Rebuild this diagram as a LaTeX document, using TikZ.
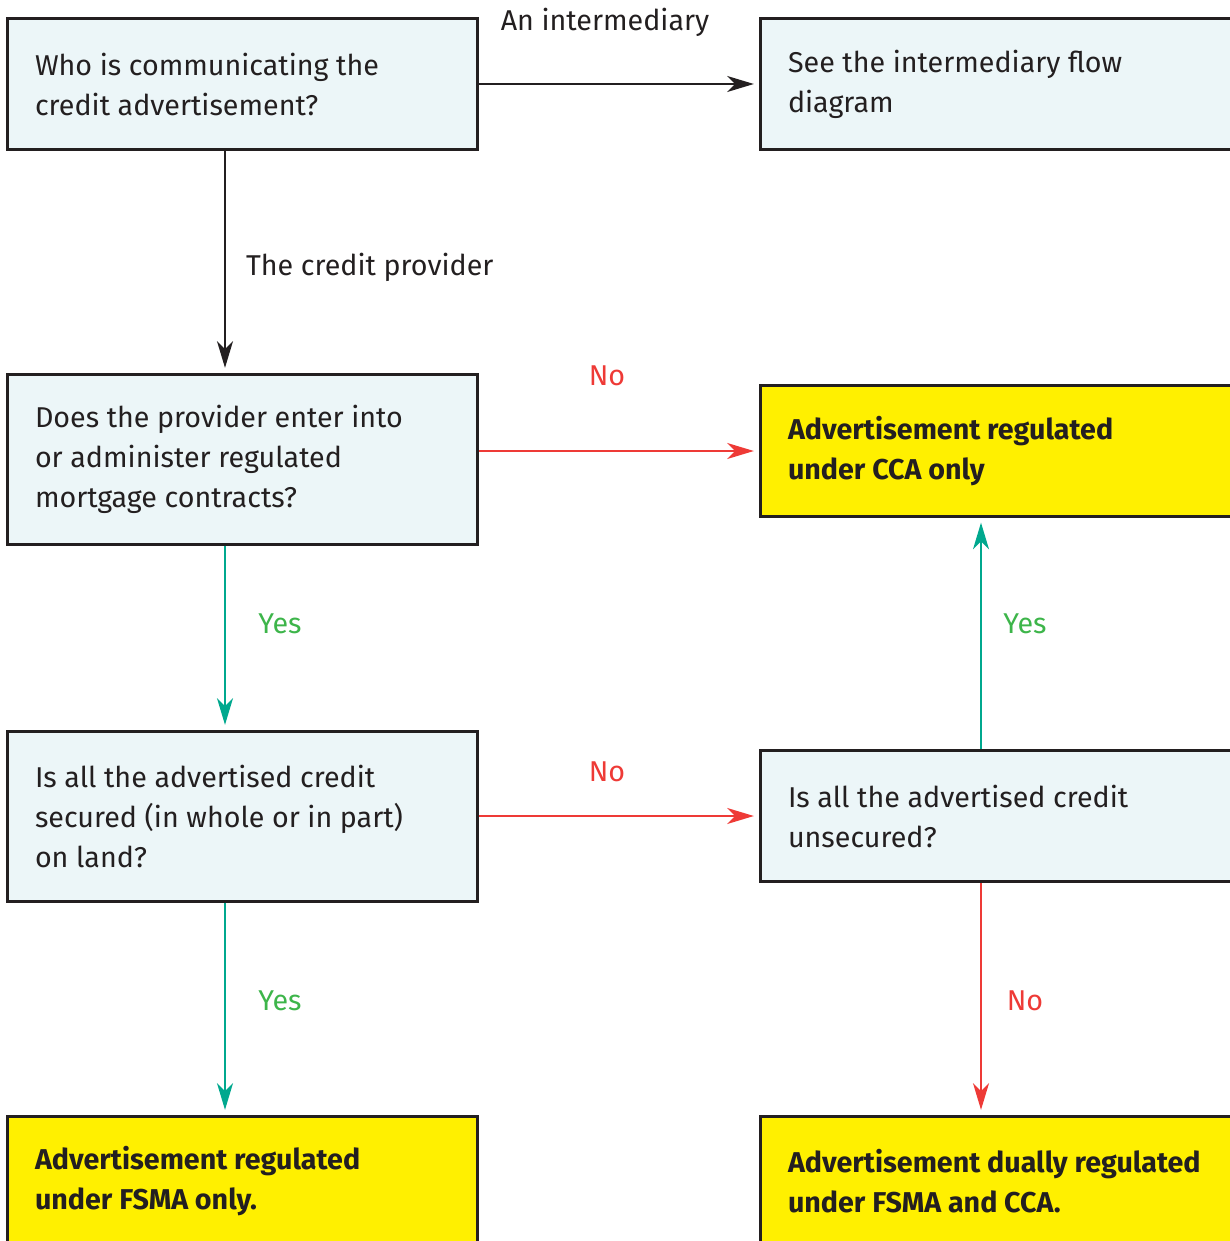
\documentclass[tikz,border=0pt]{standalone}
\usepackage{fontspec}
\setmainfont{Fira Sans}
\usetikzlibrary{arrows.meta}

\definecolor{boxblue}{HTML}{ECF6F8}
\definecolor{boxyellow}{HTML}{FFF000}
\definecolor{linedark}{HTML}{231F20}
\definecolor{noRed}{HTML}{EE3A36}
\definecolor{yesGreen}{HTML}{3DB54A}
\definecolor{yesTeal}{HTML}{00A88E}

\tikzset{
every picture/.style={
line width=1.6pt
},
qbox/.style={draw=linedark, line width=2.25pt, fill=boxblue, text=linedark,
  minimum width=352.5pt, text width=310.5pt, inner xsep=21pt, align=flush left,
  font=\fontsize{21.5}{30}\selectfont},
abox/.style={qbox, fill=boxyellow, font=\fontsize{21.5}{30}\selectfont\bfseries},
wide/.style={minimum width=360pt, text width=318pt},
flow/.style={-{Stealth[length=20pt, width=12pt, inset=6pt]}, shorten >=3.5pt},
lbl/.style={font=\fontsize{21.5}{30}\selectfont, inner sep=0pt}
}

\begin{document}
\begin{tikzpicture}[x=0.75pt, y=-0.75pt]
\useasboundingbox (0,0) rectangle (1229,1241);

% question boxes, left column
\node[qbox, minimum height=98.25pt] (who) at (242,84) {Who is communicating the\\credit advertisement?};
\node[qbox, minimum height=127.5pt] (mortgage) at (242,459) {Does the provider enter into\\or administer regulated\\mortgage contracts?};
\node[qbox, minimum height=127.5pt] (secured) at (242,816) {Is all the advertised credit\\secured (in whole or in part)\\on land?};
\node[abox, minimum height=98.25pt] (fsma) at (242,1181.5) {Advertisement regulated\\under FSMA only.};

% right column (runs off the page)
\node[qbox, wide, minimum height=98.25pt] (interm) at (1000,84) {See the intermediary flow\\diagram};
\node[abox, wide, minimum height=98.25pt] (cca) at (1000,451) {Advertisement regulated\\under CCA only};
\node[qbox, wide, minimum height=98.25pt] (unsec) at (1000,816) {Is all the advertised credit\\unsecured?};
\node[abox, wide, minimum height=98.25pt] (dual) at (1000,1181.5) {Advertisement dually regulated\\under FSMA and CCA.};

\coordinate (colL) at (225,0);
\coordinate (colR) at (981,0);

% connectors
\draw[flow, linedark] (who) -- (interm);
\draw[flow, linedark] (who.south -| colL) -- (mortgage.north -| colL);
\draw[flow, noRed] (mortgage.east |- cca) -- (cca.west);
\draw[flow, yesTeal] (mortgage.south -| colL) -- (secured.north -| colL);
\draw[flow, noRed] (secured) -- (unsec);
\draw[flow, yesTeal] (secured.south -| colL) -- (fsma.north -| colL);
\draw[flow, yesTeal] (unsec.north -| colR) -- (cca.south -| colR);
\draw[flow, noRed] (unsec.south -| colR) -- (dual.north -| colR);

% labels
\node[lbl, text=linedark] (lInterm) at (605,22) {An intermediary};
\node[lbl, text=linedark, anchor=west] (lProv) at (245,267) {The credit provider};
\node[lbl, text=noRed] (lNo1) at (607,376) {No};
\node[lbl, text=yesGreen] (lYes1) at (280,624) {Yes};
\node[lbl, text=noRed] (lNo2) at (607,772) {No};
\node[lbl, text=yesGreen] (lYes2) at (280,1001) {Yes};
\node[lbl, text=yesGreen] (lYes3) at (1025,624) {Yes};
\node[lbl, text=noRed] (lNo3) at (1025,1001) {No};
\end{tikzpicture}
\end{document}
